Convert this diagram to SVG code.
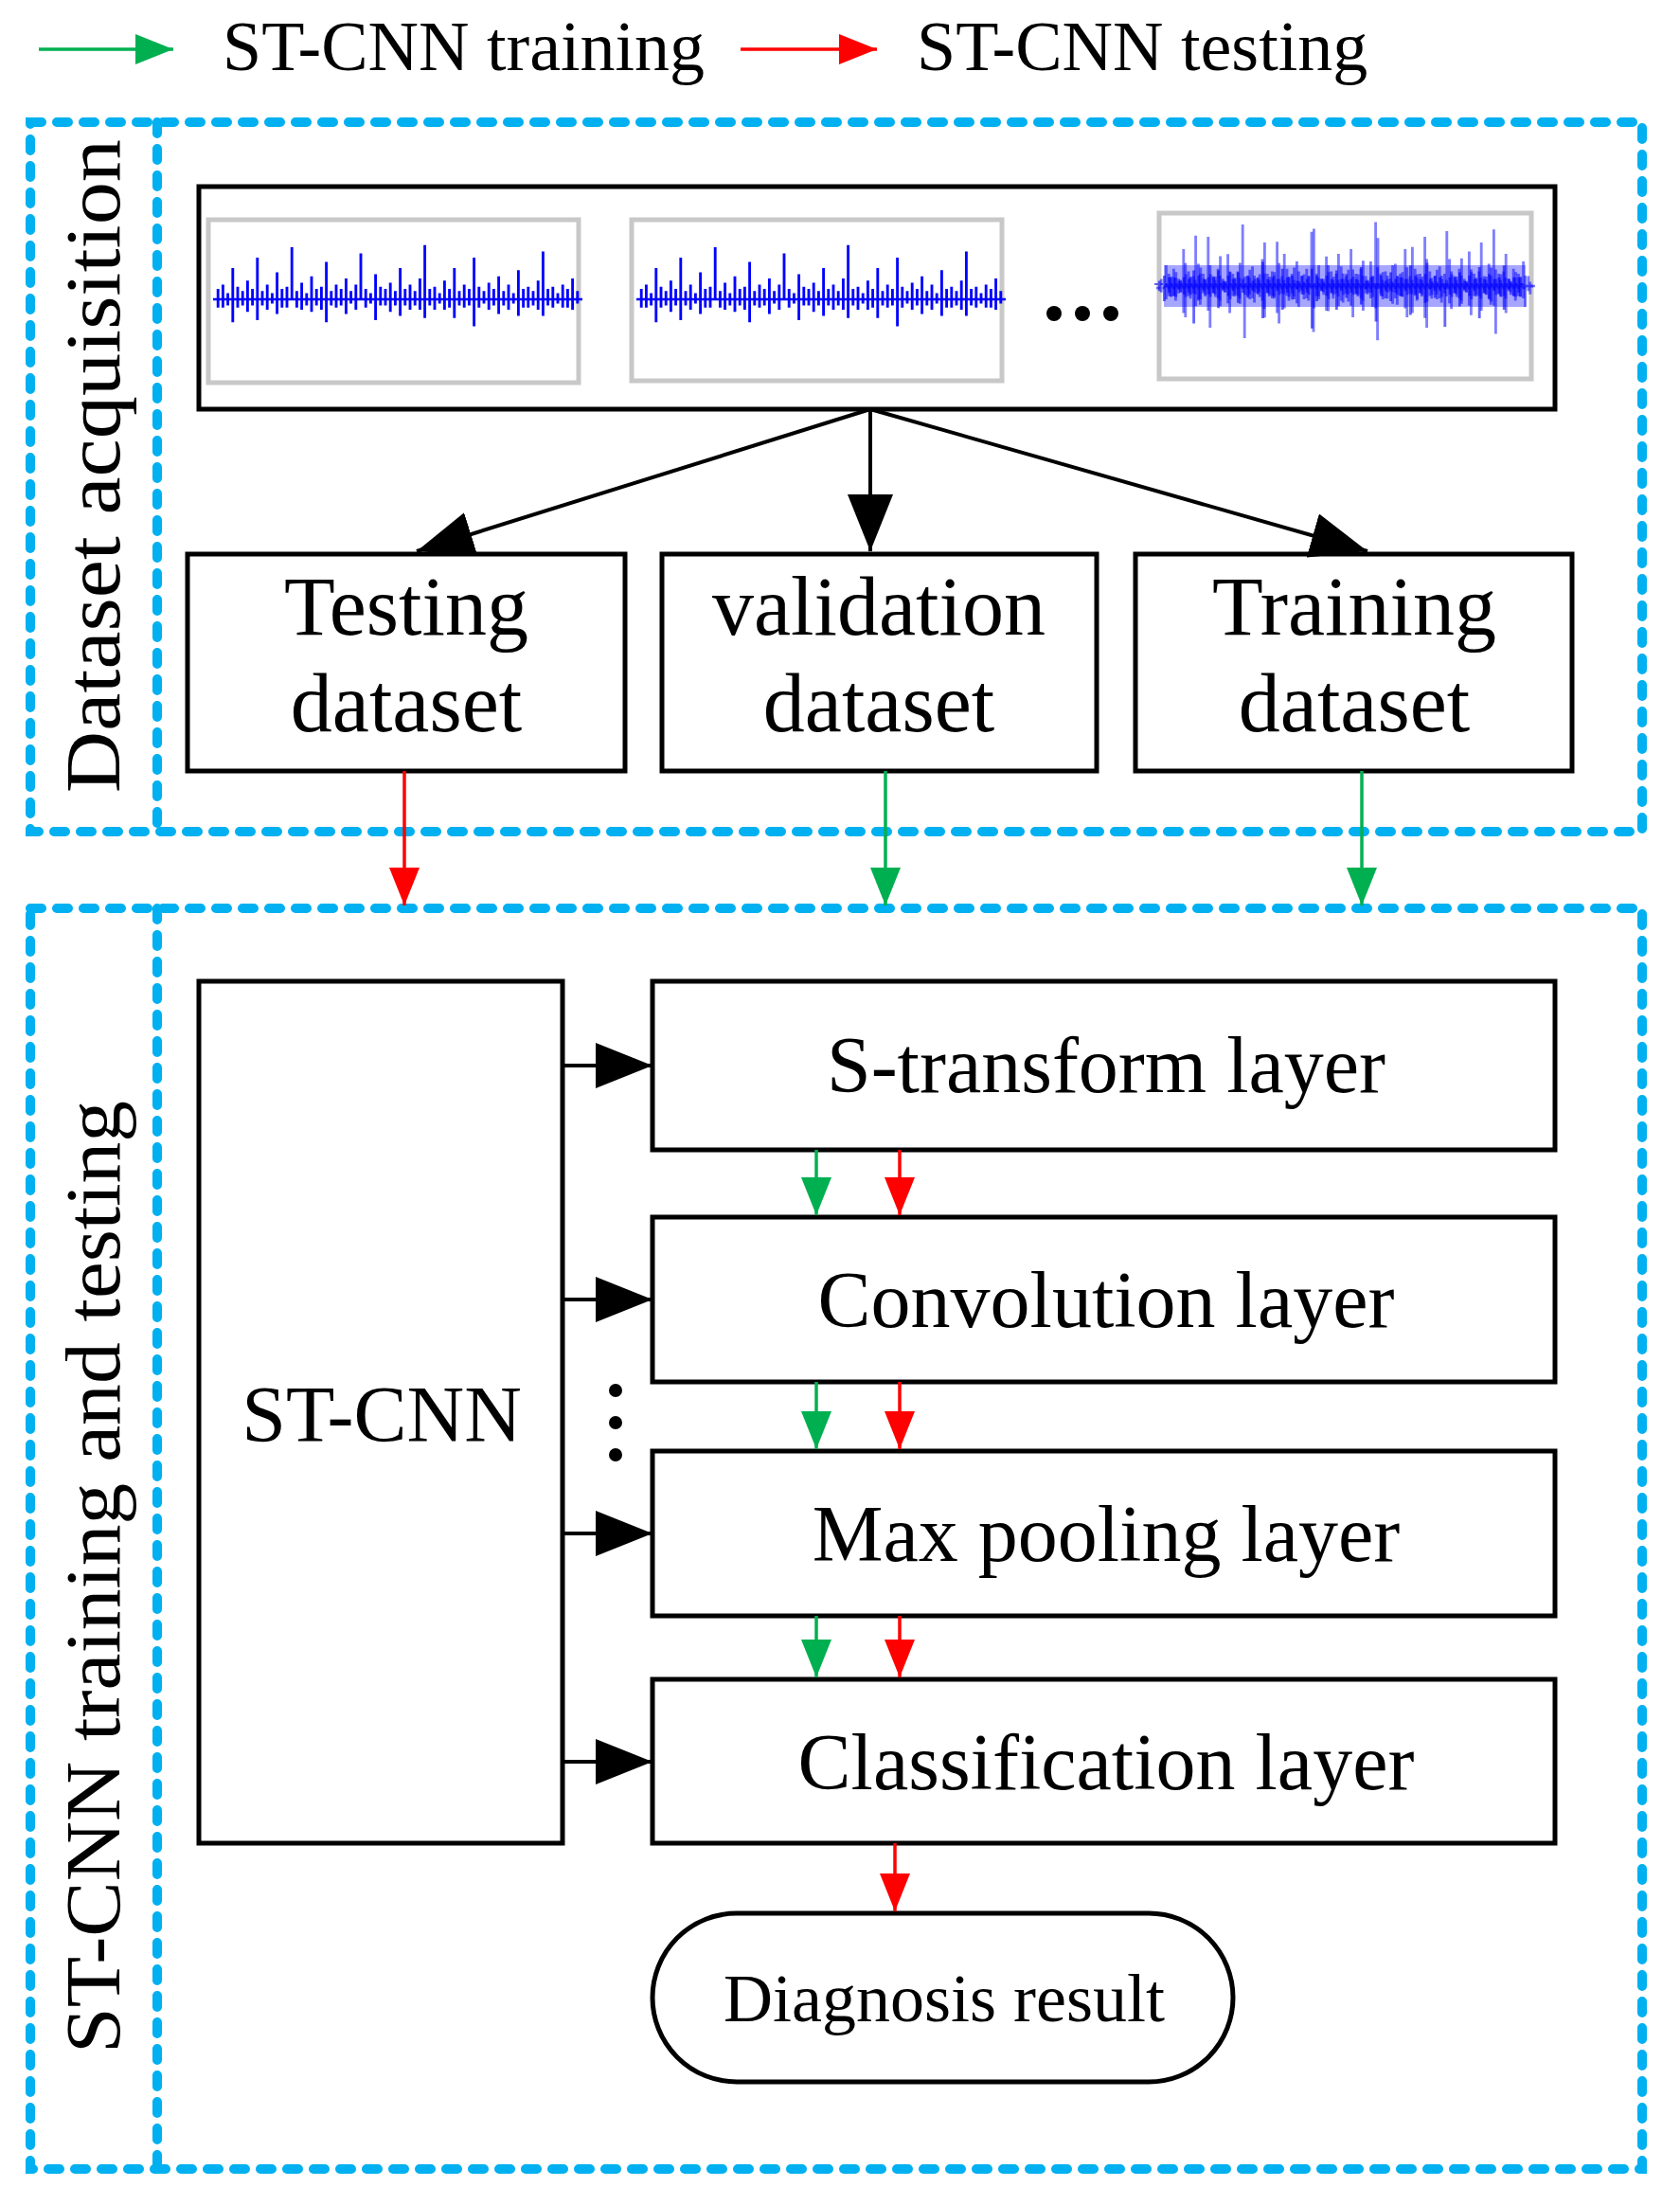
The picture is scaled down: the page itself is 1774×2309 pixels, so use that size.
<svg xmlns="http://www.w3.org/2000/svg" width="1774" height="2309" viewBox="0 0 1774 2309">
<style>
.t{font-family:"Liberation Serif","Times New Roman",serif;fill:#000}
.box{fill:#fff;stroke:#000;stroke-width:5}
.dash{fill:none;stroke:#00b0f0;stroke-width:10;stroke-dasharray:12 16;stroke-linecap:round}
.k{stroke:#000;stroke-width:4;fill:none}
.g{stroke:#00b050;stroke-width:3.5;fill:none}
.r{stroke:#ff0000;stroke-width:3.5;fill:none}
.wave{fill:none;stroke:#0000ff;stroke-width:2.2}
.frame{fill:#fff;stroke:#c8c8c8;stroke-width:5}
</style>
<defs>
<marker id="akb" viewBox="0 0 20 16" refX="20" refY="8" markerWidth="60" markerHeight="48" orient="auto" markerUnits="userSpaceOnUse"><path d="M0,0 L20,8 L0,16 z" fill="#000"/></marker>
<marker id="ag" viewBox="0 0 20 16" refX="20" refY="8" markerWidth="40" markerHeight="32" orient="auto" markerUnits="userSpaceOnUse"><path d="M0,0 L20,8 L0,16 z" fill="#00b050"/></marker>
<marker id="ar" viewBox="0 0 20 16" refX="20" refY="8" markerWidth="40" markerHeight="32" orient="auto" markerUnits="userSpaceOnUse"><path d="M0,0 L20,8 L0,16 z" fill="#ff0000"/></marker>
<path id="w" class="wave" d="M0,0 h4 v-10 v18 v-8 h4 v-14 v22 v-8 h4 v-6 v12 v-6 h4 v-30 v52 v-22 h4 v-12 v20 v-8 h4 v-8 v14 v-6 h4 v-18 v30 v-12 h4 v-10 v16 v-6 h4 v-40 v60 v-20 h4 v-8 v14 v-6 h4 v-14 v24 v-10 h4 v-6 v10 v-4 h4 v-26 v40 v-14 h4 v-10 v18 v-8 h4 v-12 v20 v-8 h4 v-50 v40 v10 h4 v-8 v16 v-8 h4 v-16 v26 v-10 h4 v-6 v12 v-6 h4 v-22 v34 v-12 h4 v-10 v16 v-6 h4 v-12 v22 v-10 h4 v-36 v58 v-22 h4 v-8 v14 v-6 h4 v-14 v22 v-8 h4 v-10 v16 v-6 h4 v-20 v34 v-14 h4 v-8 v12 v-4 h4 v-14 v24 v-10 h4 v-44 v36 v8 h4 v-10 v18 v-8 h4 v-6 v10 v-4 h4 v-24 v44 v-20 h4 v-12 v18 v-6 h4 v-10 v16 v-6 h4 v-16 v28 v-12 h4 v-8 v14 v-6 h4 v-30 v46 v-16 h4 v-10 v16 v-6 h4 v-14 v24 v-10 h4 v-8 v14 v-6 h4 v-20 v30 v-10 h4 v-52 v70 v-18 h4 v-10 v16 v-6 h4 v-12 v22 v-10 h4 v-6 v10 v-4 h4 v-18 v28 v-10 h4 v-10 v18 v-8 h4 v-30 v48 v-18 h4 v-8 v14 v-6 h4 v-14 v22 v-8 h4 v-10 v16 v-6 h4 v-40 v66 v-26 h4 v-12 v20 v-8 h4 v-8 v12 v-4 h4 v-16 v26 v-10 h4 v-10 v16 v-6 h4 v-22 v36 v-14 h4 v-8 v14 v-6 h4 v-14 v24 v-10 h4 v-6 v10 v-4 h4 v-28 v44 v-16 h4 v-10 v18 v-8 h4 v-12 v20 v-8 h4 v-8 v14 v-6 h4 v-18 v28 v-10 h4 v-46 v62 v-16 h4 v-10 v16 v-6 h4 v-12 v20 v-8 h4 v-6 v10 v-4 h4 v-14 v22 v-8 h4 v-10 v18 v-8 h4 v-20 v30 v-10 h4 v-8 v12 v-4 h4"/>
</defs>

<g id="legend">
<line class="g" x1="41" y1="52" x2="183" y2="52" marker-end="url(#ag)"/>
<text class="t" x="235" y="74" font-size="74">ST-CNN training</text>
<line class="r" x1="782" y1="52" x2="926" y2="52" marker-end="url(#ar)"/>
<text class="t" x="968" y="74" font-size="74">ST-CNN testing</text>
</g>

<g id="group-acquisition">
<rect class="dash" x="32" y="129" width="1702" height="749"/>
<line class="dash" x1="166" y1="129" x2="166" y2="878"/>
<text class="t" font-size="82" transform="translate(126,492) rotate(-90)" text-anchor="middle" textLength="690" lengthAdjust="spacingAndGlyphs">Dataset  acquisition</text>
</g>

<g id="signals">
<rect class="box" x="210" y="197" width="1432" height="235"/>
<rect class="frame" x="220" y="232" width="391" height="172"/>
<rect class="frame" x="667" y="232" width="391" height="170"/>
<rect class="frame" x="1224" y="225" width="393" height="175"/>
<use href="#w" transform="translate(225,316) scale(1.3,1.1)"/>
<use href="#w" transform="translate(672,316) scale(1.3,1.1)"/>
<g transform="translate(1229,302)">
<rect x="0" y="-22" width="382" height="44" fill="#0000ff" opacity="0.35"/>
<use href="#w" transform="scale(1.3,1.3)" opacity="0.5"/>
<use href="#w" transform="translate(2,0) scale(1.3,-1.1)" opacity="0.5"/>
<use href="#w" transform="translate(382,2) scale(-1.3,1.2)" opacity="0.5"/>
<use href="#w" transform="translate(380,-2) scale(-1.3,-0.9)" opacity="0.6"/>
</g>
<circle cx="1113" cy="331" r="8"/><circle cx="1143" cy="331" r="8"/><circle cx="1173" cy="331" r="8"/>
</g>

<g id="testing-dataset">
<rect class="box" x="198" y="585" width="462" height="229"/>
<text class="t" font-size="88" x="429" y="670" text-anchor="middle">Testing</text>
<text class="t" font-size="88" x="429" y="772" text-anchor="middle">dataset</text>
</g>
<g id="validation-dataset">
<rect class="box" x="699" y="585" width="459" height="229"/>
<text class="t" font-size="88" x="928" y="670" text-anchor="middle">validation</text>
<text class="t" font-size="88" x="928" y="772" text-anchor="middle">dataset</text>
</g>
<g id="training-dataset">
<rect class="box" x="1199" y="585" width="461" height="229"/>
<text class="t" font-size="88" x="1430" y="670" text-anchor="middle">Training</text>
<text class="t" font-size="88" x="1430" y="772" text-anchor="middle">dataset</text>
</g>

<g id="group-training">
<rect class="dash" x="32" y="959" width="1702" height="1331"/>
<line class="dash" x1="166" y1="959" x2="166" y2="2290"/>
<text class="t" font-size="82" transform="translate(126,1665) rotate(-90)" text-anchor="middle" textLength="1006" lengthAdjust="spacingAndGlyphs">ST-CNN training and testing</text>
</g>

<g id="st-cnn">
<rect class="box" x="210" y="1036" width="384" height="910"/>
<text class="t" font-size="84" x="403" y="1522" text-anchor="middle">ST-CNN</text>
</g>
<g id="s-transform">
<rect class="box" x="689" y="1036" width="953" height="178"/>
<text class="t" font-size="84" x="1168" y="1153" text-anchor="middle">S-transform layer</text>
</g>
<g id="convolution">
<rect class="box" x="689" y="1285" width="953" height="174"/>
<text class="t" font-size="84" x="1168" y="1401" text-anchor="middle">Convolution layer</text>
</g>
<g id="max-pooling">
<rect class="box" x="689" y="1532" width="953" height="174"/>
<text class="t" font-size="84" x="1168" y="1648" text-anchor="middle">Max pooling layer</text>
</g>
<g id="classification">
<rect class="box" x="689" y="1773" width="953" height="173"/>
<text class="t" font-size="84" x="1168" y="1889" text-anchor="middle">Classification layer</text>
</g>
<g id="diagnosis">
<rect class="box" x="689" y="2020" width="613" height="178" rx="89"/>
<text class="t" font-size="72" x="997" y="2134" text-anchor="middle">Diagnosis result</text>
</g>
<g id="dots">
<circle cx="650" cy="1468" r="7"/><circle cx="650" cy="1502" r="7"/><circle cx="650" cy="1536" r="7"/>
</g>

<g id="connectors">
<line class="k" x1="919" y1="432" x2="440" y2="582" marker-end="url(#akb)"/>
<line class="k" x1="919" y1="432" x2="919" y2="582" marker-end="url(#akb)"/>
<line class="k" x1="919" y1="432" x2="1444" y2="582" marker-end="url(#akb)"/>
<line class="r" x1="427" y1="814" x2="427" y2="956" marker-end="url(#ar)"/>
<line class="g" x1="935" y1="814" x2="935" y2="956" marker-end="url(#ag)"/>
<line class="g" x1="1438" y1="814" x2="1438" y2="956" marker-end="url(#ag)"/>
<line class="k" x1="594" y1="1125" x2="689" y2="1125" marker-end="url(#akb)"/>
<line class="k" x1="594" y1="1372" x2="689" y2="1372" marker-end="url(#akb)"/>
<line class="k" x1="594" y1="1619" x2="689" y2="1619" marker-end="url(#akb)"/>
<line class="k" x1="594" y1="1860" x2="689" y2="1860" marker-end="url(#akb)"/>
<line class="g" x1="862" y1="1214" x2="862" y2="1283" marker-end="url(#ag)"/>
<line class="r" x1="950" y1="1214" x2="950" y2="1283" marker-end="url(#ar)"/>
<line class="g" x1="862" y1="1459" x2="862" y2="1530" marker-end="url(#ag)"/>
<line class="r" x1="950" y1="1459" x2="950" y2="1530" marker-end="url(#ar)"/>
<line class="g" x1="862" y1="1706" x2="862" y2="1771" marker-end="url(#ag)"/>
<line class="r" x1="950" y1="1706" x2="950" y2="1771" marker-end="url(#ar)"/>
<line class="r" x1="945" y1="1946" x2="945" y2="2018" marker-end="url(#ar)"/>
</g>
</svg>
